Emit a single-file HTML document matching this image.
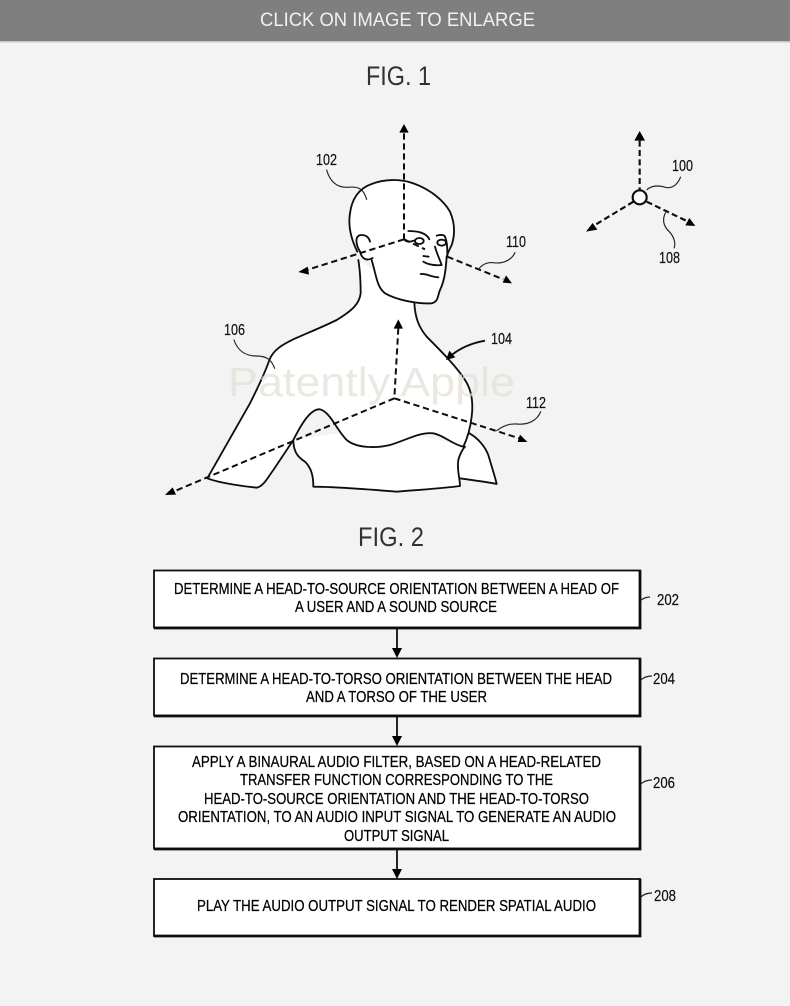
<!DOCTYPE html>
<html>
<head>
<meta charset="utf-8">
<style>
html,body{margin:0;padding:0;background:#f3f3f3;width:790px;height:1006px;overflow:hidden}
svg{display:block;position:absolute;left:0;top:0}
text{font-family:"Liberation Sans",sans-serif}
.t{font-size:16px;fill:#000;stroke:#000;stroke-width:0.25px}
.l{font-size:16px;fill:#111;stroke:#111;stroke-width:0.2px}
</style>
</head>
<body>
<svg width="790" height="1006" viewBox="0 0 790 1006" xmlns="http://www.w3.org/2000/svg">
<defs>
<filter id="b" x="-5%" y="-5%" width="110%" height="110%"><feGaussianBlur stdDeviation="0.35"/></filter>
</defs>
<rect width="790" height="1006" fill="#f3f3f3"/>
<rect width="790" height="41" fill="#7f7f7f"/>
<rect y="41" width="790" height="1.5" fill="#c4c4c4"/>
<g filter="url(#b)">
<text x="260" y="26" font-size="19" fill="#f1f1f1" textLength="275" lengthAdjust="spacingAndGlyphs">CLICK ON IMAGE TO ENLARGE</text>
<text x="366" y="85" font-size="27" fill="#333" textLength="65" lengthAdjust="spacingAndGlyphs">FIG. 1</text>
<text x="358" y="546" font-size="27" fill="#333" textLength="66" lengthAdjust="spacingAndGlyphs">FIG. 2</text>

<!-- Figure 1 body -->
<g transform="translate(150,110) scale(0.33333)" fill="none" stroke="#111" stroke-width="5.5" stroke-linecap="round" stroke-linejoin="round">
  <!-- right arm -->
  <path fill="#fff" stroke="none" d="M958,970 C985,985 1005,1010 1015,1035 C1025,1070 1035,1100 1040,1122 C1010,1115 960,1110 930,1105 L925,1050 Z"/>
  <path d="M958,970 C985,985 1005,1010 1015,1035 C1025,1070 1035,1100 1040,1122 C1010,1115 960,1110 930,1105"/>
  <!-- torso -->
  <path fill="#fff" stroke="none" d="M430,990 C430,1020 440,1040 465,1055 C485,1075 490,1100 490,1130 C560,1130 680,1140 740,1145 C800,1140 880,1135 930,1128 C930,1105 920,1080 925,1050 C930,1030 940,1015 945,1010 L700,950 Z"/>
  <path d="M430,990 C430,1020 440,1040 465,1055 C485,1075 490,1100 490,1130 C560,1130 680,1140 740,1145 C800,1140 880,1135 930,1128 C930,1105 920,1080 925,1050 C930,1030 940,1015 945,1010"/>
  <!-- upper body with left arm -->
  <path fill="#fff" stroke="none" d="M625,450 C630,480 632,520 632,550 C628,580 610,600 560,630 C520,650 470,670 430,688 C395,705 370,720 358,750 C345,790 320,840 300,880 L172,1105 C210,1120 290,1130 320,1133 C340,1130 355,1100 370,1080 L430,990 C450,950 480,895 510,898 C540,905 560,960 590,990 C620,1015 680,1015 720,1005 C770,990 810,965 850,970 C880,975 910,1005 940,1010 C950,990 960,960 965,920 C970,880 965,840 945,810 C920,770 870,720 830,680 C805,650 795,620 793,575 L700,500 Z"/>
  <path d="M625,450 C630,480 632,520 632,550 C628,580 610,600 560,630 C520,650 470,670 430,688 C395,705 370,720 358,750 C345,790 320,840 300,880 L172,1105 C210,1120 290,1130 320,1133 C340,1130 355,1100 370,1080 L430,990 C450,950 480,895 510,898 C540,905 560,960 590,990 C620,1015 680,1015 720,1005 C770,990 810,965 850,970 C880,975 910,1005 940,1010 C950,990 960,960 965,920 C970,880 965,840 945,810 C920,770 870,720 830,680 C805,650 795,620 793,578"/>
  <!-- head -->
  <path fill="#fff" stroke="none" d="M622,425 C600,380 595,340 600,310 C605,270 625,235 665,222 C700,208 750,205 790,220 C840,238 880,270 900,305 C915,340 915,375 905,405 C895,425 893,430 890,440 C888,470 885,510 870,540 C862,560 865,575 845,580 C800,582 740,570 705,550 C680,530 680,500 665,455 C650,455 635,445 622,425 Z"/>
  <path d="M622,425 C600,380 595,340 600,310 C605,270 625,235 665,222 C700,208 750,205 790,220 C840,238 880,270 900,305 C915,340 915,375 905,405 C895,425 893,430 890,440 C888,470 885,510 870,540 C862,560 865,575 845,580 C800,582 740,570 705,550 C680,530 680,500 665,450"/>
</g>

<!-- Face -->
<g transform="translate(340,170) scale(0.33333)" fill="none" stroke="#111" stroke-width="5.5" stroke-linecap="round" stroke-linejoin="round">
  <path fill="#fff" d="M60,245 C45,220 45,195 65,195 C80,195 88,205 90,215"/>
  <path d="M60,245 C65,265 78,275 98,264"/>
  <ellipse cx="238" cy="213" rx="13" ry="9" fill="#fff"/>
  <ellipse cx="305" cy="218" rx="13" ry="9" fill="#fff"/>
  <path d="M205,183 C235,183 260,190 268,208"/>
  <path d="M290,197 C300,193 310,195 314,198 C322,215 322,235 322,258"/>
  <path d="M285,230 C290,250 300,270 305,285 C290,287 265,285 250,275"/>
  <path d="M250,258 L266,260"/>
  <path d="M242,312 C260,310 270,320 295,322"/>
  <path d="M192,207 C197,215 205,218 222,212"/>
</g>

<!-- Dashed axes -->
<g transform="translate(150,110) scale(0.33333)" fill="none" stroke="#111" stroke-width="6" stroke-dasharray="19 11">
  <path d="M762,70 L762,388"/>
  <path d="M762,388 L470,480"/>
  <path d="M762,388 L825,418 M892,440 L1060,508"/>
  <path d="M745,655 L733,865"/>
  <path d="M733,865 L70,1145"/>
  <path d="M733,865 L1108,985"/>
</g>
<g transform="translate(150,110) scale(0.33333)" fill="#000" stroke="none">
  <polygon points="762,42 776,68 748,68"/>
  <polygon points="445,486 473,470 477,494"/>
  <polygon points="1086,520 1058,518 1068,496"/>
  <polygon points="745,628 759,656 731,656"/>
  <polygon points="45,1155 68,1132 78,1154"/>
  <polygon points="1132,996 1103,996 1110,974"/>
</g>
<!-- Leaders -->
<g transform="translate(150,110) scale(0.33333)" fill="none" stroke="#222" stroke-width="3.5" stroke-linecap="round">
  <path d="M530,180 C540,215 560,232 590,232 C625,228 640,235 650,268"/>
  <path d="M252,690 C262,720 285,738 320,738 C350,738 365,750 374,775"/>
  <path d="M1095,428 C1085,450 1060,462 1030,458 C1010,456 995,465 985,478"/>
  <path d="M1172,905 C1160,935 1130,945 1100,942 C1075,940 1055,950 1040,962"/>
</g>
<g transform="translate(150,110) scale(0.33333)">
  <path d="M1005,692 C960,700 930,715 905,735" fill="none" stroke="#111" stroke-width="5.5"/>
  <polygon points="888,750 898,722 916,742" fill="#000"/>
</g>

<!-- Small axes -->
<g transform="translate(570,120) scale(0.33333)">
  <g fill="none" stroke="#111" stroke-width="6.5" stroke-dasharray="18 10">
    <path d="M209,62 L209,212"/>
    <path d="M190,245 L75,315"/>
    <path d="M230,245 L350,303"/>
  </g>
  <polygon points="209,33 225,62 193,62" fill="#000"/>
  <polygon points="48,335 68,309 82,329" fill="#000"/>
  <polygon points="376,318 346,316 358,294" fill="#000"/>
  <circle cx="209" cy="232" r="21" fill="#fff" stroke="#111" stroke-width="6.5"/>
  <path d="M230,210 C245,195 265,195 290,203 C310,205 325,190 332,170" fill="none" stroke="#222" stroke-width="3.5"/>
  <path d="M287,277 C275,300 282,320 298,335 C312,350 318,370 312,385" fill="none" stroke="#222" stroke-width="3.5"/>
</g>

<!-- Figure labels -->
<text class="l" x="316" y="165" textLength="21" lengthAdjust="spacingAndGlyphs">102</text>
<text class="l" x="672" y="171" textLength="21" lengthAdjust="spacingAndGlyphs">100</text>
<text class="l" x="506" y="247" textLength="20" lengthAdjust="spacingAndGlyphs">110</text>
<text class="l" x="659" y="263" textLength="21" lengthAdjust="spacingAndGlyphs">108</text>
<text class="l" x="224" y="335" textLength="21" lengthAdjust="spacingAndGlyphs">106</text>
<text class="l" x="491" y="344" textLength="21" lengthAdjust="spacingAndGlyphs">104</text>
<text class="l" x="526" y="408" textLength="20" lengthAdjust="spacingAndGlyphs">112</text>

<!-- Watermark -->
<text x="228" y="396" font-size="41" fill="#e2ded6" fill-opacity="0.7" textLength="287" lengthAdjust="spacingAndGlyphs">Patently Apple</text>

<!-- Flow boxes -->
<g fill="#fff" stroke="#111" stroke-width="1.8">
  <rect x="154" y="570.5" width="486" height="57"/>
  <rect x="154" y="658.5" width="486" height="57"/>
  <rect x="154" y="746.5" width="486" height="102"/>
  <rect x="154" y="879" width="486" height="57"/>
</g>
<g fill="none" stroke="#111" stroke-width="2.8">
  <path d="M640,570 V628 H154"/>
  <path d="M640,658 V716 H154"/>
  <path d="M640,746 V849 H154"/>
  <path d="M640,879 V936 H154"/>
</g>
<g stroke="#111" stroke-width="1.8">
  <path d="M397,628 V650"/>
  <path d="M397,716 V738"/>
  <path d="M397,849 V871"/>
</g>
<g fill="#000">
  <polygon points="397,658 392,648 402,648"/>
  <polygon points="397,746 392,736 402,736"/>
  <polygon points="397,879 392,869 402,869"/>
</g>
<!-- Flow text -->
<text class="t" x="174" y="594" textLength="445" lengthAdjust="spacingAndGlyphs">DETERMINE A HEAD-TO-SOURCE ORIENTATION BETWEEN A HEAD OF</text>
<text class="t" x="295" y="612" textLength="202" lengthAdjust="spacingAndGlyphs">A USER AND A SOUND SOURCE</text>
<text class="t" x="180" y="684" textLength="432" lengthAdjust="spacingAndGlyphs">DETERMINE A HEAD-TO-TORSO ORIENTATION BETWEEN THE HEAD</text>
<text class="t" x="306" y="702" textLength="181" lengthAdjust="spacingAndGlyphs">AND A TORSO OF THE USER</text>
<text class="t" x="192" y="767" textLength="409" lengthAdjust="spacingAndGlyphs">APPLY A BINAURAL AUDIO FILTER, BASED ON A HEAD-RELATED</text>
<text class="t" x="240" y="785" textLength="313" lengthAdjust="spacingAndGlyphs">TRANSFER FUNCTION CORRESPONDING TO THE</text>
<text class="t" x="204" y="804" textLength="385" lengthAdjust="spacingAndGlyphs">HEAD-TO-SOURCE ORIENTATION AND THE HEAD-TO-TORSO</text>
<text class="t" x="178" y="822" textLength="438" lengthAdjust="spacingAndGlyphs">ORIENTATION, TO AN AUDIO INPUT SIGNAL TO GENERATE AN AUDIO</text>
<text class="t" x="344" y="841" textLength="105" lengthAdjust="spacingAndGlyphs">OUTPUT SIGNAL</text>
<text class="t" x="197" y="911" textLength="399" lengthAdjust="spacingAndGlyphs">PLAY THE AUDIO OUTPUT SIGNAL TO RENDER SPATIAL AUDIO</text>
<!-- Flow labels -->
<text class="l" x="657" y="605" textLength="22" lengthAdjust="spacingAndGlyphs">202</text>
<text class="l" x="653" y="684" textLength="22" lengthAdjust="spacingAndGlyphs">204</text>
<text class="l" x="653" y="788" textLength="22" lengthAdjust="spacingAndGlyphs">206</text>
<text class="l" x="654" y="901" textLength="22" lengthAdjust="spacingAndGlyphs">208</text>
<g fill="none" stroke="#222" stroke-width="1.3">
  <path d="M641,600 C644,598 647,597 650,597"/>
  <path d="M641,680 C644,677 648,676 652,676"/>
  <path d="M641,784 C644,781 648,780 652,780"/>
  <path d="M641,897 C644,894 648,893 652,893"/>
</g>
</g>
</svg>
</body>
</html>
